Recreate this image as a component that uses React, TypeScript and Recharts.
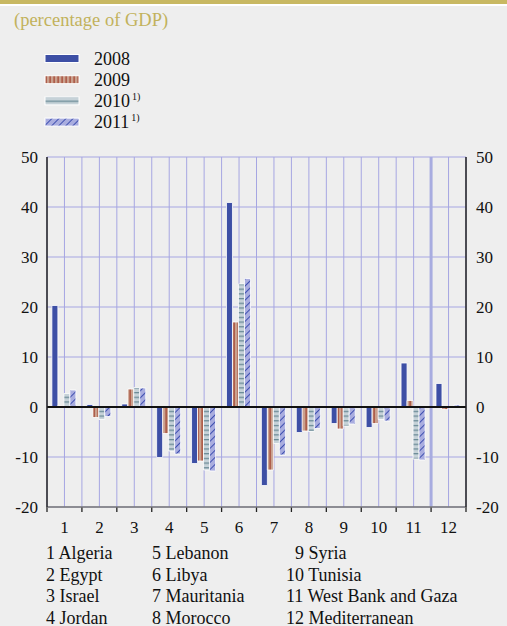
import React from 'react';
import { BarChart, Bar, Line, XAxis, YAxis, CartesianGrid, ReferenceLine } from 'recharts';

const categories = ['1', '2', '3', '4', '5', '6', '7', '8', '9', '10', '11', '12'];
const series2008 = [20.3, 0.5, 0.6, -10.1, -11.3, 40.9, -15.7, -5.1, -3.3, -4.1, 8.8, 4.7];
const series2009 = [0.3, -2.1, 3.6, -5.3, -10.8, 17.0, -12.6, -4.8, -4.4, -3.3, 1.3, -0.5];
const series2010 = [2.7, -2.5, 3.9, -8.8, -12.6, 24.6, -7.3, -4.9, -3.8, -2.5, -10.4, 0.1];
const series2011 = [3.4, -1.9, 3.8, -9.4, -12.8, 25.7, -9.6, -4.3, -3.4, -2.8, -10.6, 0.4];
const yTicks = [-20, -10, 0, 10, 20, 30, 40, 50];
const countryColumns = [
  ['1 Algeria', '2 Egypt', '3 Israel', '4 Jordan'],
  ['5 Lebanon', '6 Libya', '7 Mauritania', '8 Morocco'],
  ['9 Syria', '10 Tunisia', '11 West Bank and Gaza', '12 Mediterranean'],
];

const data = categories.map((c, i) => ({
  name: c,
  y2008: series2008[i],
  y2009: series2009[i],
  y2010: series2010[i],
  y2011: series2011[i],
}));

const serif = '"Liberation Serif", "Times New Roman", serif';

const Patterns = () => (
  <defs>
    <pattern id="p2009" width="4" height="4" patternUnits="userSpaceOnUse">
      <rect width="4" height="4" fill="#caa18e" />
      <rect x="1.5" width="1.2" height="4" fill="#a3422e" />
    </pattern>
    <pattern id="p2010" width="6" height="4.7" patternUnits="userSpaceOnUse">
      <rect width="6" height="4.7" fill="#c6d2d8" />
      <rect x="0" y="2" width="6" height="1.1" fill="#5b7f8b" />
    </pattern>
    <pattern id="p2011" width="5" height="5" patternUnits="userSpaceOnUse" patternTransform="rotate(45)">
      <rect width="5" height="5" fill="#a9addf" />
      <rect x="0" y="0" width="1" height="5" fill="#3e4fb0" />
    </pattern>
  </defs>
);

const legendItems = [
  { label: '2008', fill: '#3d4fa5', sup: '' },
  { label: '2009', fill: 'url(#p2009)', sup: '' },
  { label: '2010', fill: 'url(#p2010)', sup: '1)' },
  { label: '2011', fill: 'url(#p2011)', sup: '1)' },
];

// vertical grid: category boundaries and centres of the plot area
const gridX = ({ offset }: any) => {
  const bw = offset.width / categories.length;
  const out: number[] = [];
  for (let i = 0; i <= categories.length * 2; i++) out.push(offset.left + (i * bw) / 2);
  return out;
};

const axisFont = { fontSize: 17, fontFamily: serif, fill: '#111' };

export default function App() {
  return (
    <div style={{ position: 'absolute', left: 0, top: 0, width: 507, height: 626, background: '#eeeeee', overflow: 'hidden' }}>
      <div style={{ position: 'absolute', left: 0, top: 0, width: 507, height: 4, background: '#c8b862', borderBottom: '2px solid #fff' }} />
      <div style={{ position: 'absolute', left: 14, top: 9, fontFamily: serif, fontSize: 18.5, color: '#c2b25c', lineHeight: '22px' }}>
        (percentage of GDP)
      </div>

      <svg width={200} height={140} style={{ position: 'absolute', left: 0, top: 0 }}>
        <Patterns />
        {legendItems.map((it, i) => {
          const cy = 58.5 + i * 21.2;
          return (
            <g key={it.label}>
              <rect x={45} y={cy - 4} width={34} height={8} fill={it.fill} stroke="#fff" strokeWidth={1} />
              <text x={94} y={cy} dominantBaseline="central" fontSize={18} fontFamily={serif} fill="#111">
                {it.label}
                {it.sup && (
                  <tspan fontSize={10} dx={2} dy={-5}>
                    {it.sup}
                  </tspan>
                )}
              </text>
            </g>
          );
        })}
      </svg>

      <div style={{ position: 'absolute', left: 0, top: 0 }}>
        <BarChart
          width={507}
          height={545}
          data={data}
          margin={{ top: 157, right: 0, bottom: 8, left: 0 }}
          barCategoryGap="14%"
          barGap={0}
        >
          <XAxis
            dataKey="name"
            interval={0}
            tickLine={false}
            tickSize={0}
            tickMargin={14}
            axisLine={{ stroke: '#777', strokeWidth: 1.5 }}
            tick={axisFont}
            height={30}
          />
          <YAxis
            yAxisId="left"
            domain={[-20, 50]}
            ticks={yTicks}
            interval={0}
            width={47}
            tickLine={false}
            tickSize={0}
            tickMargin={9}
            axisLine={{ stroke: '#222', strokeWidth: 1.5 }}
            tick={axisFont}
          />
          <YAxis
            yAxisId="right"
            orientation="right"
            domain={[-20, 50]}
            ticks={yTicks}
            interval={0}
            width={41}
            tickLine={false}
            tickSize={0}
            tickMargin={10}
            axisLine={{ stroke: '#222', strokeWidth: 1.5 }}
            tick={axisFont}
          />
          <CartesianGrid yAxisId="left" stroke="#a6a6e2" strokeWidth={1} verticalCoordinatesGenerator={gridX} />
          <ReferenceLine yAxisId="left" x="12" position="start" stroke="#a8ace0" strokeWidth={3} />
          <ReferenceLine yAxisId="left" y={0} stroke="#111" strokeWidth={2} />
          {categories.map((c) => (
            <ReferenceLine
              key={'t' + c}
              yAxisId="left"
              ifOverflow="visible"
              position="start"
              segment={[{ x: c, y: -20 }, { x: c, y: -21 }]}
              stroke="#222"
              strokeWidth={1.3}
            />
          ))}
          <ReferenceLine
            yAxisId="left"
            ifOverflow="visible"
            position="end"
            segment={[{ x: '12', y: -20 }, { x: '12', y: -21 }]}
            stroke="#222"
            strokeWidth={1.3}
          />
          <Bar yAxisId="left" dataKey="y2008" fill="#3d4fa5" stroke="#fff" strokeWidth={0.8} isAnimationActive={false} />
          <Bar yAxisId="left" dataKey="y2009" fill="url(#p2009)" stroke="#fff" strokeWidth={0.8} isAnimationActive={false} />
          <Bar yAxisId="left" dataKey="y2010" fill="url(#p2010)" stroke="#fff" strokeWidth={0.8} isAnimationActive={false} />
          <Bar yAxisId="left" dataKey="y2011" fill="url(#p2011)" stroke="#fff" strokeWidth={0.8} isAnimationActive={false} />
          <Line yAxisId="right" dataKey="y2008" stroke="none" dot={false} activeDot={false} isAnimationActive={false} />
        </BarChart>
      </div>

      {countryColumns.map((col, ci) =>
        col.map((name, ri) => (
          <div
            key={name}
            style={{
              position: 'absolute',
              left: ci === 0 ? 46 : ci === 1 ? 152 : name.startsWith('9 ') ? 295 : 286,
              top: 542 + ri * 21.5,
              fontFamily: serif,
              fontSize: 18,
              lineHeight: '22px',
              color: '#111',
              whiteSpace: 'nowrap',
            }}
          >
            {name}
          </div>
        ))
      )}
    </div>
  );
}
